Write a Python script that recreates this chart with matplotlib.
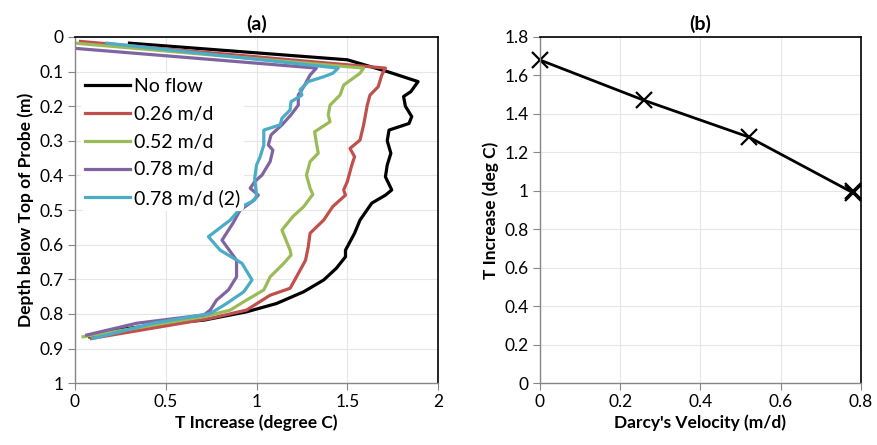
import matplotlib.pyplot as plt
from matplotlib.ticker import FuncFormatter

plt.rcParams['font.family'] = ['Lato', 'DejaVu Sans']

# panel (a): temperature increase (degree C) vs depth (m)
noflow_T = [0.30, 1.50, 1.72, 1.89, 1.85, 1.81, 1.82, 1.855, 1.84, 1.73, 1.72, 1.74, 1.72, 1.71,
            1.745, 1.71, 1.635, 1.57, 1.54, 1.49, 1.49, 1.44, 1.37, 1.26, 1.11, 0.945, 0.71, 0.49,
            0.155, 0.08]
noflow_d = [0.018, 0.066, 0.10, 0.129, 0.158, 0.172, 0.20, 0.23, 0.25, 0.269, 0.30, 0.336, 0.37, 0.404,
            0.442, 0.457, 0.48, 0.529, 0.567, 0.616, 0.635, 0.668, 0.702, 0.736, 0.77, 0.794, 0.818, 0.828,
            0.852, 0.866]

v026_T = [0.03, 1.71, 1.69, 1.67, 1.625, 1.61, 1.59, 1.57, 1.515, 1.54, 1.525, 1.50, 1.48, 1.49,
          1.42, 1.37, 1.295, 1.285, 1.27, 1.22, 1.185, 1.075, 0.945, 0.745, 0.09]
v026_d = [0.013, 0.09, 0.11, 0.144, 0.168, 0.197, 0.254, 0.298, 0.322, 0.346, 0.37, 0.418, 0.442, 0.457,
          0.49, 0.529, 0.567, 0.606, 0.645, 0.693, 0.726, 0.746, 0.789, 0.813, 0.871]

v052_T = [0.0, 1.59, 1.57, 1.48, 1.46, 1.405, 1.395, 1.405, 1.32, 1.33, 1.34, 1.295, 1.275, 1.295,
          1.31, 1.26, 1.20, 1.14, 1.185, 1.19, 1.15, 1.075, 1.04, 0.945, 0.855, 0.71, 0.045]
v052_d = [0.018, 0.09, 0.105, 0.139, 0.168, 0.197, 0.225, 0.245, 0.274, 0.307, 0.336, 0.36, 0.399, 0.437,
          0.455, 0.49, 0.519, 0.558, 0.616, 0.63, 0.654, 0.693, 0.731, 0.76, 0.789, 0.808, 0.866]

v078_T = [0.0, 1.33, 1.295, 1.26, 1.23, 1.23, 1.19, 1.14, 1.08, 1.065, 1.09, 1.075, 1.03, 0.99,
          0.965, 1.01, 0.975, 0.91, 0.87, 0.81, 0.89, 0.89, 0.845, 0.78, 0.745, 0.71,
          0.34, 0.065]
v078_d = [0.033, 0.09, 0.11, 0.144, 0.168, 0.197, 0.225, 0.254, 0.283, 0.312, 0.327, 0.36, 0.399, 0.418,
          0.437, 0.457, 0.476, 0.50, 0.538, 0.587, 0.645, 0.693, 0.731, 0.76, 0.789, 0.803,
          0.827, 0.861]

v078b_T = [0.175, 1.45, 1.42, 1.37, 1.285, 1.24, 1.25, 1.19, 1.185, 1.14, 1.13, 1.04, 1.04, 1.02,
           1.0, 0.99, 1.0, 0.99, 0.92, 0.855, 0.735, 0.80, 0.92, 0.975, 0.93, 0.835, 0.745, 0.43, 0.10]
v078b_d = [0.018, 0.09, 0.105, 0.115, 0.129, 0.153, 0.168, 0.187, 0.211, 0.235, 0.254, 0.269, 0.312, 0.346,
           0.37, 0.408, 0.457, 0.471, 0.49, 0.529, 0.577, 0.616, 0.654, 0.702, 0.736, 0.77, 0.799, 0.827,
           0.871]

# panel (b): peak increase vs Darcy velocity
velocity = [0.0, 0.26, 0.52, 0.78, 0.78]
t_increase = [1.68, 1.47, 1.28, 0.99, 1.0]

fig = plt.figure(figsize=(8.77, 4.45), dpi=100)
ax1 = fig.add_axes([0.0855, 0.139, 0.414, 0.778])
ax2 = fig.add_axes([0.6157, 0.139, 0.366, 0.778])

fmt = FuncFormatter(lambda v, p: '%g' % round(v, 2))


def style_axes(ax):
    ax.grid(True, color='#e6e6e6', linewidth=0.8)
    ax.set_axisbelow(True)
    for s in ['top', 'right']:
        ax.spines[s].set_color('black')
        ax.spines[s].set_linewidth(1.2)
    for s in ['left', 'bottom']:
        ax.spines[s].set_color('#868686')
        ax.spines[s].set_linewidth(1.0)
    ax.tick_params(direction='out', length=5, color='#868686', labelsize=12.5, pad=3)
    ax.xaxis.set_major_formatter(fmt)
    ax.yaxis.set_major_formatter(fmt)


series = [
    (noflow_T, noflow_d, 'No flow', 'black'),
    (v026_T, v026_d, '0.26 m/d', '#C0504D'),
    (v052_T, v052_d, '0.52 m/d', '#9BBB59'),
    (v078_T, v078_d, '0.78 m/d', '#8064A2'),
    (v078b_T, v078b_d, '0.78 m/d (2)', '#4BACC6'),
]
for T, d, lab, col in series:
    ax1.plot(T, d, color=col, linewidth=2.3, label=lab)

ax1.set_xlim(0, 2)
ax1.set_ylim(1, 0)
ax1.set_xticks([0, 0.5, 1, 1.5, 2])
ax1.set_yticks([i / 10 for i in range(11)])
style_axes(ax1)
ax1.set_xlabel('T Increase (degree C)', fontweight='bold', fontsize=12.5, labelpad=3)
ax1.set_ylabel('Depth below Top of Probe (m)', fontweight='bold', fontsize=12.5, labelpad=4)
ax1.set_title('(a)', fontweight='bold', fontsize=14, pad=5)
leg = ax1.legend(loc='upper left', bbox_to_anchor=(-0.01, 0.92), frameon=True, fontsize=14,
                 handlelength=2.3, handletextpad=0.2, labelspacing=0.55, borderpad=0.2)
leg.get_frame().set_edgecolor('none')
leg.get_frame().set_facecolor('white')
leg.get_frame().set_alpha(1)

ax2.plot(velocity[:4], t_increase[:4], color='black', linewidth=2)
ax2.plot(velocity, t_increase, linestyle='None', marker='x', markersize=12,
         markeredgewidth=1.6, color='black', clip_on=False)
ax2.set_xlim(0, 0.8)
ax2.set_ylim(0, 1.8)
ax2.set_xticks([0, 0.2, 0.4, 0.6, 0.8])
ax2.set_yticks([i / 5 for i in range(10)])
style_axes(ax2)
ax2.set_xlabel("Darcy's Velocity (m/d)", fontweight='bold', fontsize=12.5, labelpad=3)
ax2.set_ylabel('T Increase (deg C)', fontweight='bold', fontsize=12.5, labelpad=4)
ax2.set_title('(b)', fontweight='bold', fontsize=14, pad=5)

plt.savefig('out.png', dpi=100)
